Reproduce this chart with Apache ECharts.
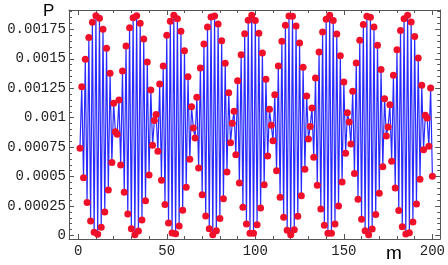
<!DOCTYPE html>
<html>
<head>
<meta charset="utf-8">
<script src="https://cdn.jsdelivr.net/npm/echarts@6/dist/echarts.min.js"></script>
<style>
  html, body { margin: 0; padding: 0; background: #fff; }
  #chart { width: 448px; height: 265px; }
</style>
</head>
<body>
<div id="chart"></div>
<script>
  // P(m), m = 1..200
  const pValues = [
    0.00074, 0.001263, 0.00049, 0.001496, 0.000279, 0.00168, 0.000123, 0.00181, 0.000027, 0.001866,
    0.00001, 0.001844, 0.00007, 0.00175, 0.0002, 0.001589, 0.000386, 0.001377, 0.00062, 0.001122,
    0.00088, 0.000859, 0.00115, 0.000598, 0.001396, 0.000367, 0.001609, 0.000183, 0.001764, 0.000058,
    0.001849, 0.000007, 0.001866, 0.000038, 0.001801, 0.000132, 0.001668, 0.000295, 0.001473, 0.000514,
    0.001235, 0.000766, 0.000975, 0.001026, 0.000715, 0.001286, 0.000469, 0.001439, 0.000262, 0.0017,
    0.000106, 0.001818, 0.000021, 0.001869, 0.000015, 0.00184, 0.000081, 0.001733, 0.000214, 0.001569,
    0.000409, 0.001348, 0.000647, 0.001093, 0.000913, 0.000828, 0.001173, 0.000573, 0.001422, 0.000346,
    0.001626, 0.000166, 0.00177, 0.000058, 0.001855, 0.000007, 0.001863, 0.000041, 0.001795, 0.000143,
    0.001654, 0.000312, 0.001462, 0.000539, 0.001212, 0.000788, 0.000952, 0.001054, 0.000686, 0.001314,
    0.000446, 0.001535, 0.000239, 0.001713, 0.000098, 0.001827, 0.000018, 0.001869, 0.000018, 0.001824,
    0.000092, 0.001716, 0.000233, 0.001549, 0.000431, 0.001326, 0.000675, 0.001071, 0.000935, 0.000805,
    0.001195, 0.00055, 0.001439, 0.000324, 0.001649, 0.000154, 0.001784, 0.000044, 0.001863, 0.000007,
    0.00186, 0.000049, 0.001778, 0.000163, 0.001634, 0.000338, 0.001428, 0.000562, 0.001184, 0.000819,
    0.000924, 0.001082, 0.000664, 0.001337, 0.000426, 0.001558, 0.000225, 0.001727, 0.000087, 0.001835,
    0.000018, 0.001869, 0.000018, 0.001824, 0.000098, 0.001711, 0.00025, 0.001526, 0.000454, 0.001303,
    0.000698, 0.001042, 0.000963, 0.000777, 0.001224, 0.000525, 0.001464, 0.000307, 0.001657, 0.000137,
    0.00179, 0.000041, 0.00186, 0.000007, 0.001852, 0.000055, 0.00177, 0.000177, 0.001614, 0.000358,
    0.001408, 0.000584, 0.001161, 0.000845, 0.000921, 0.00111, 0.00063, 0.00136, 0.000403, 0.001577,
    0.000211, 0.001739, 0.000075, 0.00184, 0.000013, 0.001869, 0.000024, 0.001812, 0.000115, 0.001688,
    0.000267, 0.001507, 0.000477, 0.001275, 0.000728, 0.00102, 0.000997, 0.000757, 0.001252, 0.000503
  ];
  const mStart = 1;

  const xTicks = [0, 50, 100, 150, 200];
  const xMinorTicks = [10, 20, 30, 40, 60, 70, 80, 90, 110, 120, 130, 140, 160, 170, 180, 190];
  const yTicks = [0, 0.00025, 0.0005, 0.00075, 0.001, 0.00125, 0.0015, 0.00175];
  const yMinorTicks = [
    0.00005, 0.0001, 0.00015, 0.0002, 0.0003, 0.00035, 0.0004, 0.00045,
    0.00055, 0.0006, 0.00065, 0.0007, 0.0008, 0.00085, 0.0009, 0.00095,
    0.00105, 0.0011, 0.00115, 0.0012, 0.0013, 0.00135, 0.0014, 0.00145,
    0.00155, 0.0016, 0.00165, 0.0017, 0.0018, 0.00185, 0.0019
  ];

  const xMin = -5.2, xMax = 204.4;
  const yMin = -0.00003, yMax = 0.001914;
  const frameColor = '#555';

  const seriesData = pValues.map((v, i) => [mStart + i, v]);

  function fmtY(v) {
    if (Math.abs(v) < 1e-12) return '0';
    return v.toFixed(5).replace(/0+$/, '');
  }

  function xAxisDef(position, ticks, len, showLabel, showLine) {
    return {
      type: 'value', position: position, min: xMin, max: xMax,
      axisLine: {show: showLine, onZero: false, lineStyle: {color: frameColor, width: 1}},
      axisTick: {show: true, inside: true, length: len, customValues: ticks,
        lineStyle: {color: frameColor, width: 1}},
      axisLabel: {show: showLabel, customValues: ticks, margin: 5,
        fontFamily: 'Liberation Mono', fontSize: 14, color: '#222'},
      splitLine: {show: false}
    }
  }

  function yAxisDef(position, ticks, len, showLabel, showLine) {
    return {
      type: 'value', position: position, min: yMin, max: yMax,
      axisLine: {show: showLine, onZero: false, lineStyle: {color: frameColor, width: 1}},
      axisTick: {show: true, inside: true, length: len, customValues: ticks,
        lineStyle: {color: frameColor, width: 1}},
      axisLabel: {show: showLabel, customValues: ticks, margin: 3, formatter: fmtY,
        fontFamily: 'Liberation Mono', fontSize: 14, color: '#222'},
      splitLine: {show: false}
    }
  }

  const chart = echarts.init(document.getElementById('chart'), null, {renderer: 'canvas'});
  chart.setOption({
    animation: false,
    backgroundColor: '#fff',
    grid: {left: 69, top: 10, right: 6, bottom: 26, containLabel: false},
    xAxis: [
      xAxisDef('bottom', xTicks, 5, true, true),
      xAxisDef('bottom', xMinorTicks, 3, false, false),
      xAxisDef('top', xTicks, 5, false, true),
      xAxisDef('top', xMinorTicks, 3, false, false)
    ],
    yAxis: [
      yAxisDef('left', yTicks, 5, true, true),
      yAxisDef('left', yMinorTicks, 3, false, false),
      yAxisDef('right', yTicks, 5, false, true),
      yAxisDef('right', yMinorTicks, 3, false, false)
    ],
    graphic: [
      {type: 'text', left: 43, top: 3,
        style: {text: 'P', font: '17px "Liberation Sans"', fill: '#000'}},
      {type: 'text', left: 386, top: 244,
        style: {text: 'm', font: '19px "Liberation Sans"', fill: '#000'}}
    ],
    series: [{
      type: 'line',
      xAxisIndex: 0,
      yAxisIndex: 0,
      data: seriesData,
      symbol: 'circle',
      symbolSize: 7,
      showAllSymbol: true,
      itemStyle: {color: '#f0102a'},
      lineStyle: {color: '#2a2aff', width: 1.2},
      z: 3
    }]
  });
</script>
</body>
</html>
